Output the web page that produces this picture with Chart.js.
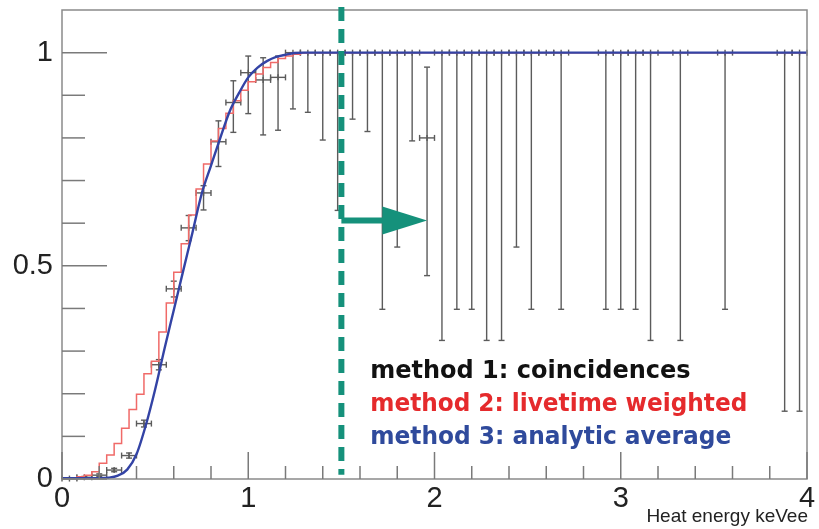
<!DOCTYPE html>
<html>
<head>
<meta charset="utf-8">
<script src="https://cdn.jsdelivr.net/npm/chart.js@4.4.1/dist/chart.umd.min.js"></script>
<style>
  html, body { margin: 0; padding: 0; background: #fff; }
  #wrap { width: 819px; height: 529px; }
</style>
</head>
<body>
<div id="wrap"><canvas id="grafico" width="819" height="529"></canvas></div>
<script>
// ── DATOS ─────────────────────────────────────────────────────────────────────
var xTicks      = [0, 1, 2, 3, 4];
var xMinorTicks = [0.2, 0.4, 0.6, 0.8, 1.2, 1.4, 1.6, 1.8, 2.2, 2.4, 2.6, 2.8, 3.2, 3.4, 3.6, 3.8];
var yTicks      = [0, 0.5, 1];
var yMinorTicks = [0.1, 0.2, 0.3, 0.4, 0.6, 0.7, 0.8, 0.9];

// method 3: analytic average (curva azul)
var blueX = [0, 0.15, 0.2, 0.25, 0.3, 0.35, 0.4, 0.45, 0.5, 0.55, 0.6, 0.65, 0.7, 0.75, 0.8, 0.85,
             0.9, 0.95, 1.0, 1.05, 1.1, 1.15, 1.2, 1.25, 1.3, 1.4, 4.0];
var blueY = [0.002, 0.002, 0.002, 0.003, 0.008, 0.022, 0.058, 0.126, 0.21, 0.305, 0.396, 0.487, 0.577,
             0.669, 0.735, 0.80, 0.862, 0.905, 0.942, 0.965, 0.98, 0.99, 0.995, 0.999, 1.0, 1.0, 1.0];

// method 2: livetime weighted (histograma rojo, borde izquierdo de cada bin)
var redEdges = [0, 0.04, 0.08, 0.12, 0.16, 0.20, 0.24, 0.28, 0.32, 0.36, 0.40, 0.44, 0.48, 0.52,
                0.56, 0.60, 0.64, 0.68, 0.72, 0.76, 0.80, 0.84, 0.88, 0.92, 0.96, 1.00, 1.04, 1.08,
                1.12, 1.16, 1.20, 1.24, 1.28, 1.32, 4.0];
var redVals  = [0.001, 0.002, 0.005, 0.009, 0.017, 0.037, 0.056, 0.083, 0.119, 0.163, 0.199, 0.247,
                0.276, 0.345, 0.413, 0.485, 0.552, 0.619, 0.680, 0.739, 0.793, 0.822, 0.858, 0.887,
                0.912, 0.932, 0.950, 0.965, 0.977, 0.986, 0.992, 0.996, 0.999, 1.0, 1.0];

// method 1: coincidences (puntos con barras de error)
var m1BinWidth = 0.08;
var m1X  = [0.04, 0.12, 0.20, 0.28, 0.36, 0.44, 0.52, 0.60, 0.68, 0.76, 0.84, 0.92, 1.00, 1.08, 1.16,
            1.24, 1.32, 1.40, 1.48, 1.56, 1.64, 1.72, 1.80, 1.88, 1.96, 2.04, 2.12, 2.20, 2.28, 2.36,
            2.44, 2.52, 2.60, 2.68, 2.92, 3.00, 3.08, 3.16, 3.32, 3.56, 3.88, 3.96];
var m1Y  = [0.001, 0.004, 0.009, 0.021, 0.055, 0.130, 0.268, 0.446, 0.589, 0.671, 0.791, 0.883, 0.953, 0.936, 0.942,
            1, 1, 1, 1, 1, 1, 1, 1, 1, 0.80, 1, 1, 1, 1, 1,
            1, 1, 1, 1, 1, 1, 1, 1, 1, 1, 1, 1];
var m1Lo = [0.0, 0.002, 0.006, 0.017, 0.049, 0.122, 0.256, 0.427, 0.559, 0.631, 0.733, 0.813, 0.857, 0.807, 0.818,
            0.868, 0.860, 0.795, 0.63, 0.844, 0.815, 0.398, 0.544, 0.793, 0.477, 0.325, 0.398, 0.398, 0.325, 0.325,
            0.544, 0.398, 1.0, 0.398, 0.398, 0.398, 0.398, 0.325, 0.325, 0.398, 0.159, 0.159];
var m1Hi = [0.002, 0.006, 0.012, 0.025, 0.061, 0.138, 0.280, 0.464, 0.618, 0.688, 0.840, 0.934, 0.992, 0.988, 0.992,
            1, 1, 1, 1, 1, 1, 1, 1, 1, 0.966, 1, 1, 1, 1, 1,
            1, 1, 1, 1, 1, 1, 1, 1, 1, 1, 1, 1];

// anotaciones (en unidades de los ejes)
var corteX     = 1.5;
var flechaY    = 0.606;
var flechaBase = 1.72;
var flechaTip  = 1.96;

var leyenda = [
  { texto: 'method 1: coincidences',      color: '#111111', ancho: 323 },
  { texto: 'method 2: livetime weighted', color: '#e52a2c', ancho: 377 },
  { texto: 'method 3: analytic average',  color: '#2f4a9c', ancho: 361 }
];
var tituloX = 'Heat energy keVee';

// ── HELPERS ───────────────────────────────────────────────────────────────────
function linea(ctx, x1, y1, x2, y2) {
  ctx.beginPath(); ctx.moveTo(x1, y1); ctx.lineTo(x2, y2); ctx.stroke();
}

function aPuntos(xs, ys) {
  return xs.map(function(x, i) { return { x: x, y: ys[i] }; });
}

// ── PLUGIN: barras de error, marco, ticks internos, anotaciones ──────────────
var estiloRoot = {
  id: 'estiloRoot',
  beforeDatasetsDraw: function(chart) {
    var ctx = chart.ctx, sx = chart.scales.x, sy = chart.scales.y;
    ctx.save();
    ctx.strokeStyle = '#5b5b5b';
    ctx.lineWidth = 1.4;
    m1X.forEach(function(x, i) {
      var px = sx.getPixelForValue(x);
      var py = sy.getPixelForValue(m1Y[i]);
      var pl = sx.getPixelForValue(x - m1BinWidth / 2);
      var pr = sx.getPixelForValue(x + m1BinWidth / 2);
      var pLo = sy.getPixelForValue(m1Lo[i]);
      var pHi = sy.getPixelForValue(m1Hi[i]);
      linea(ctx, pl, py, pr, py);
      linea(ctx, pl, py - 3, pl, py + 3);
      linea(ctx, pr, py - 3, pr, py + 3);
      linea(ctx, px, py - 3, px, py + 3);
      if (pLo - pHi > 1) {
        linea(ctx, px, pHi, px, pLo);
        linea(ctx, px - 3, pLo, px + 3, pLo);
        if (m1Hi[i] < 1) linea(ctx, px - 3, pHi, px + 3, pHi);
      }
    });
    ctx.restore();
  },
  afterDatasetsDraw: function(chart) {
    var ctx = chart.ctx, a = chart.chartArea, sx = chart.scales.x, sy = chart.scales.y;
    ctx.save();

    // marco
    ctx.strokeStyle = '#8a8a8a';
    ctx.lineWidth = 1.5;
    ctx.strokeRect(a.left, a.top, a.right - a.left, a.bottom - a.top);

    // ticks hacia dentro (estilo ROOT)
    ctx.strokeStyle = '#7a7a7a';
    ctx.lineWidth = 1.5;
    yTicks.forEach(function(v) { var p = sy.getPixelForValue(v); linea(ctx, a.left, p, a.left + 45, p); });
    yMinorTicks.forEach(function(v) { var p = sy.getPixelForValue(v); linea(ctx, a.left, p, a.left + 23, p); });
    xTicks.forEach(function(v) { var p = sx.getPixelForValue(v); linea(ctx, p, a.bottom, p, a.bottom - 27); });
    xMinorTicks.forEach(function(v) { var p = sx.getPixelForValue(v); linea(ctx, p, a.bottom, p, a.bottom - 13); });

    // linea de corte discontinua
    var cx = sx.getPixelForValue(corteX);
    ctx.strokeStyle = '#15917b';
    ctx.lineWidth = 6;
    ctx.setLineDash([14, 8]);
    linea(ctx, cx, a.top - 3, cx, sy.getPixelForValue(0.01));
    ctx.setLineDash([]);

    // flecha
    var fy = sy.getPixelForValue(flechaY);
    var fb = sx.getPixelForValue(flechaBase);
    var ft = sx.getPixelForValue(flechaTip);
    ctx.lineWidth = 6;
    linea(ctx, cx, fy, fb + 2, fy);
    ctx.fillStyle = '#15917b';
    ctx.beginPath();
    ctx.moveTo(fb, fy - 14);
    ctx.lineTo(ft, fy);
    ctx.lineTo(fb, fy + 14);
    ctx.closePath();
    ctx.fill();

    // leyenda
    ctx.font = 'bold 24px "DejaVu Sans"';
    ctx.textAlign = 'left';
    ctx.textBaseline = 'alphabetic';
    var lx = sx.getPixelForValue(1.655);
    leyenda.forEach(function(l, i) {
      ctx.fillStyle = l.color;
      ctx.fillText(l.texto, lx, 378 + i * 33, l.ancho);
    });

    // titulo eje x
    ctx.font = '19px "Liberation Sans"';
    ctx.fillStyle = '#222';
    ctx.textAlign = 'right';
    ctx.fillText(tituloX, a.right + 1, 522);
    ctx.restore();
  }
};

// ── GRAFICO ───────────────────────────────────────────────────────────────────
var ctx = document.getElementById('grafico').getContext('2d');
var grafico = new Chart(ctx, {
  type: 'line',
  data: {
    datasets: [
      {
        label: 'method 3: analytic average',
        data: aPuntos(blueX, blueY),
        borderColor: '#3343a5',
        borderWidth: 2.4,
        pointRadius: 0,
        cubicInterpolationMode: 'monotone',
        fill: false
      },
      {
        label: 'method 2: livetime weighted',
        data: aPuntos(redEdges, redVals),
        borderColor: '#f06a68',
        borderWidth: 1.5,
        pointRadius: 0,
        stepped: 'before',
        fill: false
      }
    ]
  },
  options: {
    responsive: false,
    animation: false,
    layout: { padding: { top: 10, right: 12, left: 0, bottom: 0 } },
    plugins: { legend: { display: false }, tooltip: { enabled: false } },
    scales: {
      x: {
        type: 'linear', min: 0, max: 4,
        grid: { display: false, drawTicks: false },
        border: { display: false },
        afterBuildTicks: function(s) { s.ticks = xTicks.map(function(v) { return { value: v }; }); },
        afterFit: function(s) { s.height = 50; s.paddingLeft = 0; s.paddingRight = 0; },
        ticks: {
          padding: 3,
          color: '#222',
          font: { family: 'Liberation Sans', size: 29 },
          maxRotation: 0,
          callback: function(v) { return String(v); }
        }
      },
      y: {
        type: 'linear', min: 0, max: 1.1,
        grid: { display: false, drawTicks: false },
        border: { display: false },
        afterBuildTicks: function(s) { s.ticks = yTicks.map(function(v) { return { value: v }; }); },
        afterFit: function(s) { s.width = 62; s.paddingTop = 0; s.paddingBottom = 0; },
        ticks: {
          padding: 9,
          color: '#222',
          font: { family: 'Liberation Sans', size: 29 },
          callback: function(v) { return String(v); }
        }
      }
    }
  },
  plugins: [estiloRoot]
});
</script>
</body>
</html>
